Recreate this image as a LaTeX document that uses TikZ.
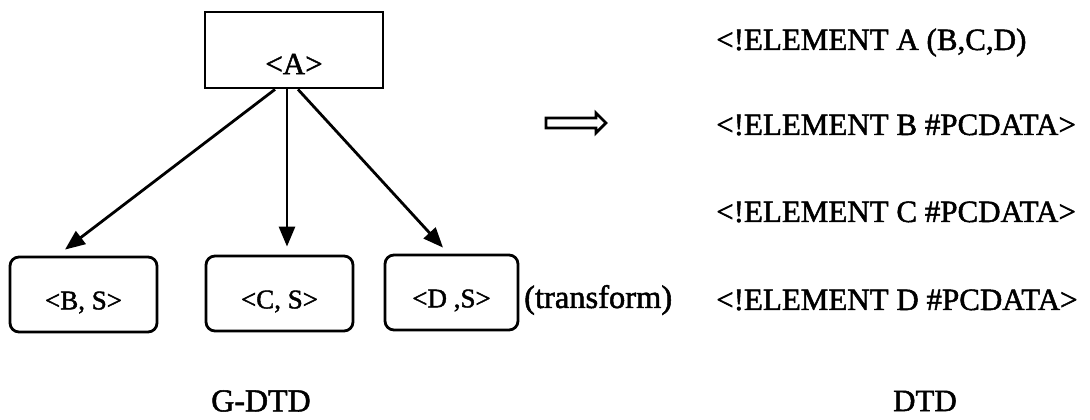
\documentclass[tikz,border=0pt]{standalone}
\usepackage{fontspec}
\setmainfont{Liberation Serif}
\newfontfamily\scanfont{Liberation Serif}[FakeBold=1.6]
\usetikzlibrary{arrows.meta,shapes.arrows}
\begin{document}
\begin{tikzpicture}[x=1pt,y=1pt,
  topbox/.style={draw,line width=2.8pt,minimum width=178pt,minimum height=76pt,inner sep=0pt,font=\scanfont\fontsize{31}{36}\selectfont},
  leafbox/.style={draw,line width=2.8pt,rounded corners=9pt,minimum height=75pt,inner sep=0pt,font=\scanfont\fontsize{27}{30}\selectfont},
  arr/.style={line width=2.8pt,-{Triangle[length=20pt,width=16pt]}},
  dtdtext/.style={anchor=base west,inner sep=0pt,font=\scanfont\fontsize{31}{36}\selectfont},
  lbl/.style={inner sep=0pt,font=\scanfont\fontsize{31}{36}\selectfont}]
\useasboundingbox (0,0) rectangle (1090,420);
\node[topbox] (A) at (294,370) {\raisebox{-14pt}[\height][\depth]{<A>}};
\node[leafbox,minimum width=147pt] (B) at (83.5,125.5) {\raisebox{-8pt}[\height][\depth]{<B, S>}};
\node[leafbox,minimum width=147pt] (C) at (279.5,126.5) {\raisebox{-8pt}[\height][\depth]{<C, S>}};
\node[leafbox,minimum width=133pt] (D) at (451.5,127.5) {\raisebox{-8pt}[\height][\depth]{<D ,S>}};
\draw[arr] ([xshift=-19pt]A.south) -- ([xshift=-18.5pt,yshift=6pt]B.north);
\draw[arr] ([xshift=-7pt]A.south) -- ([xshift=7.5pt,yshift=8pt]C.north);
\draw[arr] ([xshift=4pt]A.south) -- ([xshift=-8.5pt,yshift=6pt]D.north);
\node[single arrow,draw,line width=2.8pt,minimum height=60pt,minimum width=20pt,inner sep=3.5pt,single arrow head extend=5pt] (dbl) at (573.5,297) {};
\node[lbl,anchor=west,font=\scanfont\fontsize{32.5}{36}\selectfont] (tr) at (524,120) {(transform)};
\node[dtdtext] (l1) at (716,370) {<!ELEMENT A (B,C,D)};
\node[dtdtext] (l2) at (716,285) {<!ELEMENT B \#PCDATA>};
\node[dtdtext] (l3) at (716,198) {<!ELEMENT C \#PCDATA>};
\node[dtdtext] (l4) at (716,110) {<!ELEMENT D \#PCDATA>};
\node[lbl,font=\scanfont\fontsize{32}{36}\selectfont] (g) at (261,19) {G-DTD};
\node[lbl] (d) at (925,19) {DTD};
\end{tikzpicture}
\end{document}
